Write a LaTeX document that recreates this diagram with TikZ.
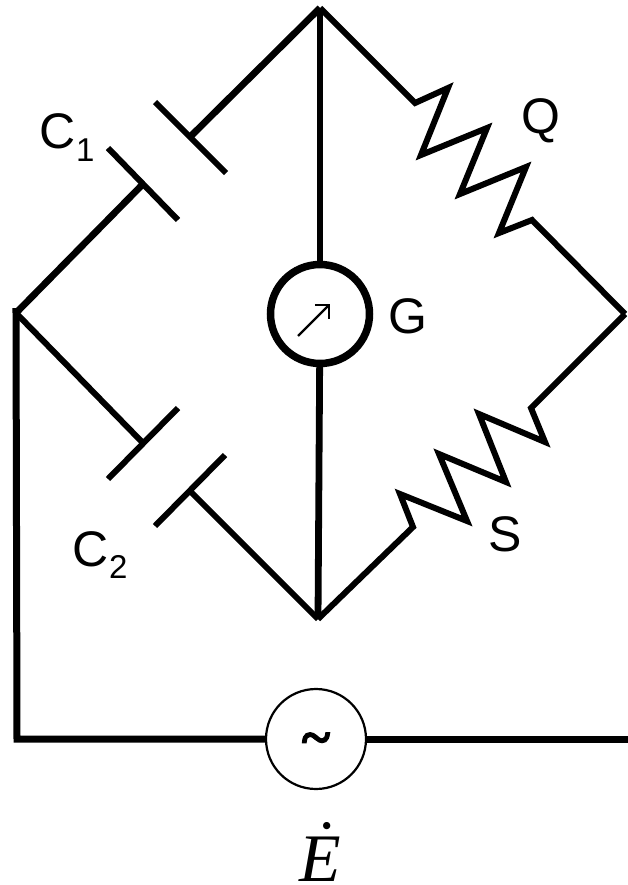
\documentclass[tikz,border=0pt]{standalone}
\usepackage{fontspec}
\setmainfont{Liberation Sans}
\newfontfamily\serifface{Liberation Serif}
\newfontfamily\tildeface[FakeBold=2]{Liberation Serif}
\usetikzlibrary{arrows.meta}
\tikzset{
  x=1pt,y=-1pt,
  wire/.style={line width=6.8pt,line cap=butt,line join=miter,black},
  thinwire/.style={line width=6pt,line cap=butt,line join=miter,black},
  plate/.style={line width=6pt,line cap=butt,black},
  meter/.style={circle,draw=black,line width=7.5pt,minimum size=99pt,inner sep=0pt,outer sep=0pt},
  source/.style={circle,draw=black,line width=2.2pt,minimum size=100pt,inner sep=0pt,outer sep=0pt},
  lab/.style={anchor=base west,inner sep=0pt,outer sep=0pt,font=\fontsize{50}{60}\selectfont},
  sublab/.style={anchor=base west,inner sep=0pt,outer sep=0pt,font=\fontsize{33}{40}\selectfont},
}
\begin{document}
\begin{tikzpicture}
\useasboundingbox (0,0) rectangle (628,885);
% junctions
\coordinate (T) at (320,8);
\coordinate (L) at (16,313);
\coordinate (R) at (625,314);
\coordinate (B) at (318,619);
\coordinate (CL) at (17,739);
\coordinate (ER) at (628,739);
% nodes
\node[meter] (G) at (320,314) {};
\node[source] (Es) at (316,739) {};
\node[inner sep=0pt,font=\tildeface\bfseries\fontsize{54}{60}\selectfont] (tilde) at (316,744) {\char"7E};
\coordinate (a0) at (298,336);
\coordinate (a1) at (330,304);
% capacitors
\coordinate (c1a) at (155,102); \coordinate (c1b) at (226,173); \coordinate (c1w) at (190,137);
\coordinate (c1c) at (108,148); \coordinate (c1d) at (178,220); \coordinate (c1x) at (143,184);
\coordinate (c2a) at (178,408); \coordinate (c2b) at (108,479); \coordinate (c2x) at (143,443);
\coordinate (c2c) at (225,455); \coordinate (c2d) at (155,526); \coordinate (c2w) at (190,491);
\draw[plate] (c1a) -- (c1b);
\draw[plate] (c1c) -- (c1d);
\draw[plate] (c2a) -- (c2b);
\draw[plate] (c2c) -- (c2d);
\draw[wire] (T) -- (c1w);
\draw[wire] (L) -- (c1x);
\draw[thinwire] (L) -- (c2x);
\draw[thinwire] (B) -- (c2w);
% resistors
\coordinate (q1) at (415,103); \coordinate (q2) at (448,88); \coordinate (q3) at (421,155);
\coordinate (q4) at (487,128); \coordinate (q5) at (460,194); \coordinate (q6) at (526,167);
\coordinate (q7) at (499,233); \coordinate (q8) at (532,220);
\draw[thinwire] (T) -- (q1) -- (q2) -- (q3) -- (q4) -- (q5) -- (q6) -- (q7) -- (q8) -- (R);
\coordinate (s1) at (531,408); \coordinate (s2) at (545,442); \coordinate (s3) at (479,414);
\coordinate (s4) at (506,482); \coordinate (s5) at (439,454); \coordinate (s6) at (467,521);
\coordinate (s7) at (400,494); \coordinate (s8) at (413,527);
\draw[thinwire] (R) -- (s1) -- (s2) -- (s3) -- (s4) -- (s5) -- (s6) -- (s7) -- (s8) -- (B);
% centre and supply
\draw[wire] (T) -- (G);
\draw[wire] (G) -- (B);
\draw[line width=7pt,line cap=butt,shorten <=-5pt] (L) -- (CL) -- (Es);
\draw[line width=7pt,line cap=butt] (Es) -- (ER);
\draw[line width=2.2pt,-{Straight Barb[length=10pt,width=20pt,line width=2.2pt]}] (a0) -- (a1);
% labels
\node[lab] (lc1) at (39,149) {C};
\node[sublab] (lc1s) at (76,162) {1};
\node[lab] (lc2) at (72,566) {C};
\node[sublab] (lc2s) at (109,578) {2};
\node[lab] (lq) at (521,134) {Q};
\node[lab] (ls) at (488,551) {S};
\node[lab] (lg) at (388,333) {G};
\node[anchor=base,inner sep=0pt,font=\serifface\itshape\fontsize{68}{70}\selectfont] (le) at (320,881) {\makebox[0pt][l]{\hspace{12pt}\raisebox{14pt}{\char"02D9}}E};
\end{tikzpicture}
\end{document}
